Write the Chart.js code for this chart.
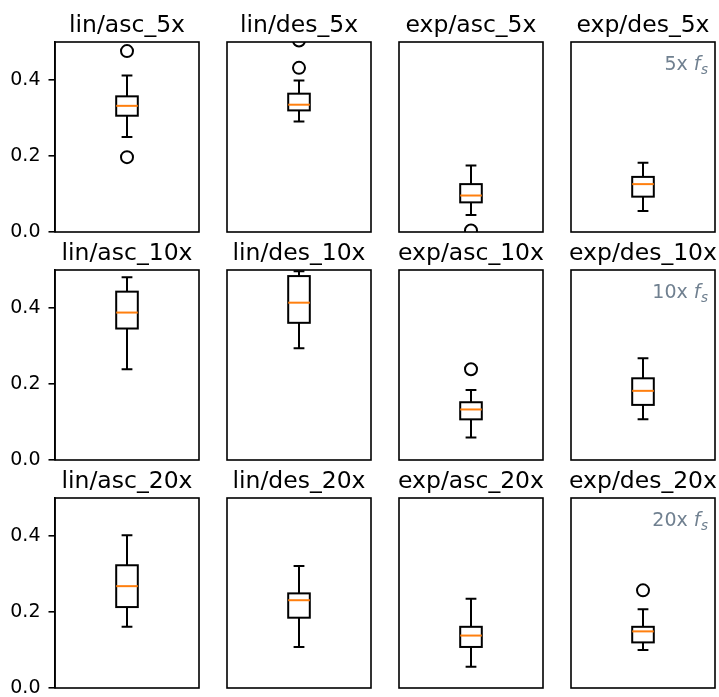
<!DOCTYPE html>
<html>
<head>
<meta charset="utf-8">
<script src="https://cdn.jsdelivr.net/npm/chart.js@4/dist/chart.umd.min.js"></script>
<style>
  body { margin: 0; background: #fff; width: 719px; height: 697px; position: relative; overflow: hidden; }
  canvas { position: absolute; }
</style>
</head>
<body>
<script>
// panel titles, row by row
const titles = [
  'lin/asc_5x', 'lin/des_5x', 'exp/asc_5x', 'exp/des_5x',
  'lin/asc_10x', 'lin/des_10x', 'exp/asc_10x', 'exp/des_10x',
  'lin/asc_20x', 'lin/des_20x', 'exp/asc_20x', 'exp/des_20x'
];
// box statistics
const whiskerLow  = [0.250, 0.291, 0.045, 0.055, 0.239, 0.294, 0.059, 0.107, 0.161, 0.108, 0.056, 0.100];
const quart1      = [0.306, 0.320, 0.078, 0.093, 0.346, 0.361, 0.107, 0.145, 0.213, 0.185, 0.108, 0.120];
const medians     = [0.332, 0.335, 0.096, 0.126, 0.388, 0.414, 0.133, 0.182, 0.268, 0.231, 0.138, 0.149];
const quart3      = [0.357, 0.364, 0.126, 0.145, 0.443, 0.484, 0.152, 0.215, 0.323, 0.249, 0.161, 0.161];
const whiskerHigh = [0.412, 0.399, 0.175, 0.182, 0.481, 0.497, 0.184, 0.268, 0.402, 0.321, 0.235, 0.207];
const outliers = [
  [0.476, 0.197], [0.504, 0.432], [0.004], [],
  [], [], [0.239], [],
  [], [], [], [0.257]
];
const rowNotes = ['5x', '10x', '20x'];
const yTicks = [0, 0.2, 0.4];

// Draw whiskers, caps, box and median through the chart scales
const boxPlugin = {
  id: 'boxPlugin',
  beforeDatasetsDraw(chart) {
    const k = chart.options.panelIndex;
    const xs = chart.scales.x, ys = chart.scales.y;
    const ctx = chart.ctx;
    const cx = xs.getPixelForValue(1);
    const bl = xs.getPixelForValue(1 - 0.075), br = xs.getPixelForValue(1 + 0.075);
    const cl = xs.getPixelForValue(1 - 0.0375), cr = xs.getPixelForValue(1 + 0.0375);
    const py = v => ys.getPixelForValue(v);
    ctx.save();
    ctx.beginPath();
    ctx.rect(chart.chartArea.left, chart.chartArea.top, chart.chartArea.width, chart.chartArea.height);
    ctx.clip();
    ctx.strokeStyle = '#000';
    ctx.lineWidth = 2;
    ctx.beginPath();
    // whiskers
    ctx.moveTo(cx, py(quart1[k])); ctx.lineTo(cx, py(whiskerLow[k]));
    ctx.moveTo(cx, py(quart3[k])); ctx.lineTo(cx, py(whiskerHigh[k]));
    // caps
    ctx.moveTo(cl, py(whiskerLow[k])); ctx.lineTo(cr, py(whiskerLow[k]));
    ctx.moveTo(cl, py(whiskerHigh[k])); ctx.lineTo(cr, py(whiskerHigh[k]));
    ctx.stroke();
    // box
    ctx.strokeRect(bl, py(quart3[k]), br - bl, py(quart1[k]) - py(quart3[k]));
    // median
    ctx.strokeStyle = '#ff7f0e';
    ctx.beginPath();
    ctx.moveTo(bl, py(medians[k])); ctx.lineTo(br, py(medians[k]));
    ctx.stroke();
    ctx.restore();
  },
  afterDraw(chart) {
    const k = chart.options.panelIndex;
    const a = chart.chartArea;
    const ctx = chart.ctx;
    ctx.save();
    ctx.strokeStyle = '#000';
    ctx.lineWidth = 1.6;
    ctx.strokeRect(a.left, a.top, a.right - a.left, a.bottom - a.top);
    // panel title, centred on the plot area
    ctx.fillStyle = '#000';
    ctx.textAlign = 'center';
    ctx.textBaseline = 'alphabetic';
    ctx.font = '23.5px "DejaVu Sans"';
    ctx.fillText(titles[k], (a.left + a.right) / 2, a.top - 10.5);
    // sampling-rate note on the last column
    if (k % 4 === 3) {
      let x = a.right - 7;
      const y = a.top + 28;
      ctx.fillStyle = '#708090';
      ctx.textAlign = 'right';
      ctx.font = 'italic 13.5px "DejaVu Sans"';
      ctx.fillText('s', x, y + 4);
      x -= ctx.measureText('s').width + 0.5;
      ctx.font = 'italic 19px "DejaVu Sans"';
      ctx.fillText('f', x, y);
      x -= ctx.measureText('f').width;
      ctx.font = '19px "DejaVu Sans"';
      ctx.fillText(rowNotes[Math.floor(k / 4)] + ' ', x, y);
    }
    ctx.restore();
  }
};

titles.forEach((title, k) => {
  const row = Math.floor(k / 4), col = k % 4;
  const canvas = document.createElement('canvas');
  canvas.width = 201;
  canvas.height = 248;
  canvas.style.width = '201px';
  canvas.style.height = '248px';
  canvas.style.left = (col * 172) + 'px';
  canvas.style.top = (row * 228) + 'px';
  document.body.appendChild(canvas);

  new Chart(canvas, {
    type: 'scatter',
    data: {
      datasets: [{
        data: outliers[k].map(v => ({ x: 1, y: v })),
        pointStyle: 'circle',
        pointRadius: 6,
        borderWidth: 2,
        borderColor: '#000',
        backgroundColor: 'rgba(0,0,0,0)'
      }]
    },
    options: {
      panelIndex: k,
      responsive: false,
      animation: false,
      devicePixelRatio: 1,
      layout: { autoPadding: false, padding: { left: col === 0 ? 0 : 55, right: 2, top: 42, bottom: 16 } },
      plugins: {
        legend: { display: false },
        tooltip: { enabled: false },
        title: { display: false }
      },
      scales: {
        x: { type: 'linear', min: 0.5, max: 1.5, display: false },
        y: {
          min: 0,
          max: 0.5,
          display: col === 0,
          afterBuildTicks: s => { s.ticks = yTicks.map(v => ({ value: v })); },
          afterFit: s => {
            if (col === 0) { s.width = 55; }
            s.paddingTop = 0;
            s.paddingBottom = 0;
          },
          ticks: {
            callback: v => v.toFixed(1),
            color: '#000',
            font: { family: 'DejaVu Sans', size: 19 },
            padding: 8
          },
          grid: { drawOnChartArea: false, tickLength: 6.5, color: '#000', lineWidth: 1.6 },
          border: { display: true, color: '#000', width: 1.6 }
        }
      }
    },
    plugins: [boxPlugin]
  });
});
</script>
</body>
</html>
